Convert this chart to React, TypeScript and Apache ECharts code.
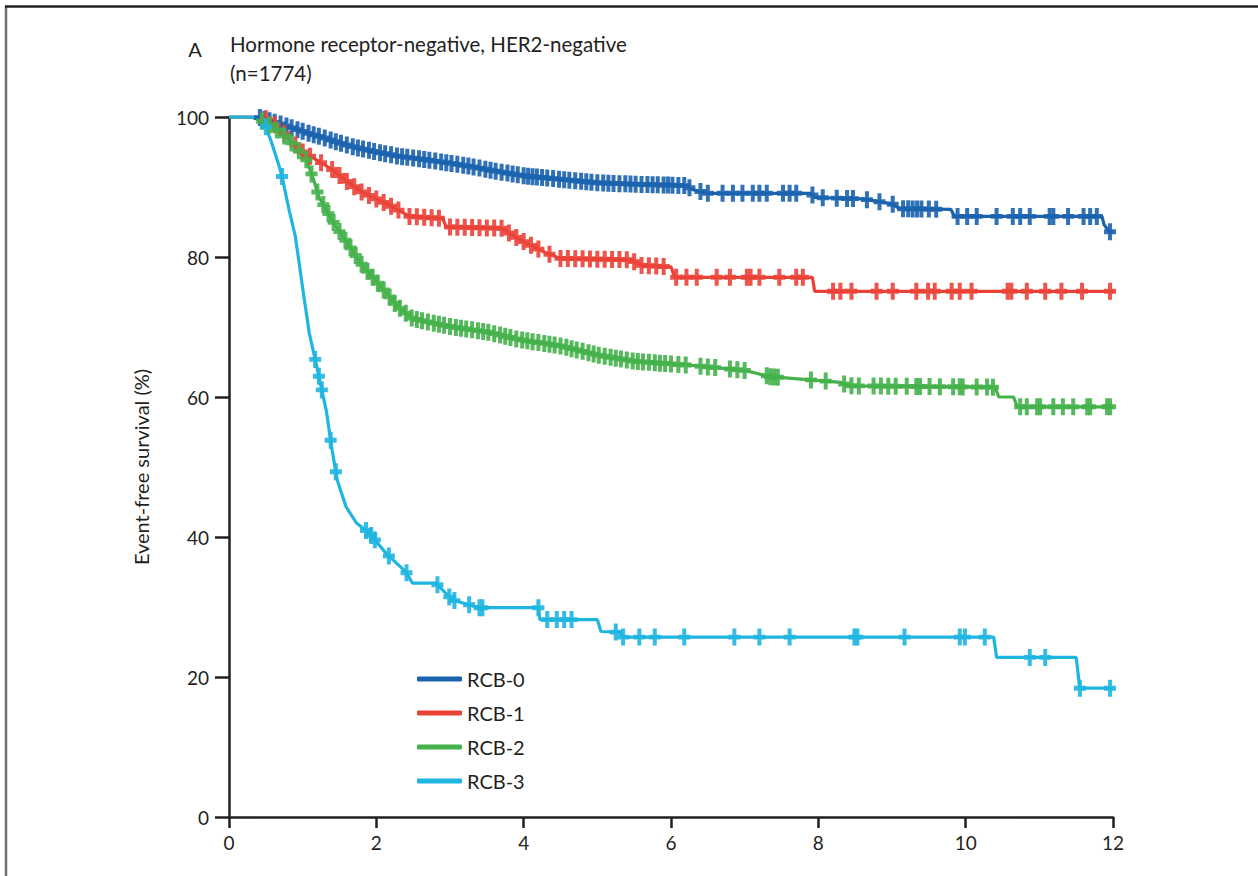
import React, { useEffect, useRef } from "react";
import * as echarts from "echarts";

const seriesNames = ["RCB-0", "RCB-1", "RCB-2", "RCB-3"];
const seriesColors = ["#1b63ae", "#eb4238", "#45b14b", "#1fb5e1"];
const xTicks = [0, 2, 4, 6, 8, 10, 12];
const yTicks = [0, 20, 40, 60, 80, 100];

// Kaplan-Meier curves: [years, event-free survival %]
const rcb0Curve = [
  [0, 100], [0.4, 100], [0.5, 99.6], [0.7, 99.0], [0.9, 98.3], [1.1, 97.6], [1.3, 97.0],
  [1.5, 96.3], [1.7, 95.7], [2.0, 95.0], [2.3, 94.4], [2.6, 94.0], [3.0, 93.4], [3.3, 92.9],
  [3.6, 92.3], [4.0, 91.6], [4.5, 91.1], [5.0, 90.6], [5.5, 90.4], [6.2, 90.2], [6.3, 89.6],
  [6.5, 89.1], [7.9, 89.1], [7.95, 88.5], [8.6, 88.3], [9.0, 87.6], [9.1, 86.9], [9.8, 86.8],
  [9.85, 85.8], [11.85, 85.8], [11.88, 84.6], [11.95, 83.6], [12, 83.6],
];
const rcb1Curve = [
  [0, 100], [0.45, 100], [0.55, 99.5], [0.7, 98.2], [0.85, 96.5], [1.0, 95.0], [1.2, 93.8],
  [1.4, 92.5], [1.6, 90.8], [1.8, 89.3], [2.1, 87.8], [2.3, 86.7], [2.45, 85.8], [2.9, 85.5],
  [2.95, 84.3], [3.7, 84.1], [3.85, 83.1], [4.0, 82.2], [4.3, 80.6], [4.5, 79.8], [5.45, 79.6],
  [5.6, 78.8], [6.0, 78.6], [6.05, 77.1], [7.92, 77.1], [7.95, 75.1], [12, 75.1],
];
const rcb2Curve = [
  [0, 100], [0.3, 100], [0.5, 99.2], [0.7, 97.8], [0.9, 95.8], [1.05, 93.9], [1.15, 91.0],
  [1.22, 88.6], [1.35, 86.2], [1.45, 84.4], [1.67, 81.0], [1.81, 78.8], [2.0, 76.5], [2.15, 74.7],
  [2.27, 73.1], [2.49, 71.2], [2.8, 70.5], [3.03, 70.0], [3.5, 69.3], [3.94, 68.2], [4.5, 67.3],
  [5.0, 66.0], [5.5, 65.1], [6.3, 64.5], [7.0, 63.8], [7.35, 62.9], [8.3, 62.1], [8.4, 61.6],
  [10.4, 61.4], [10.45, 60.0], [10.65, 60.0], [10.7, 58.6], [12, 58.6],
];
const rcb3Curve = [
  [0, 100], [0.42, 100], [0.5, 98.6], [0.58, 96.3], [0.68, 93.0], [0.72, 91.5], [0.82, 86.5],
  [0.9, 83.0], [0.99, 76.3], [1.09, 69.1], [1.18, 64.9], [1.32, 58.1], [1.4, 52.4], [1.47, 48.1],
  [1.59, 44.3], [1.73, 42.0], [1.9, 40.6], [2.13, 37.7], [2.41, 34.9], [2.49, 33.4], [2.81, 33.4],
  [3.03, 31.0], [3.4, 29.9], [4.2, 29.9], [4.22, 28.2], [5.0, 28.2], [5.05, 26.5], [5.3, 26.4],
  [5.35, 25.7], [10.38, 25.7], [10.42, 22.8], [11.5, 22.8], [11.55, 18.4], [12, 18.4],
];

// censoring times (years)
const rcb0Censor = [
  0.42, 0.48, 0.55, 0.62, 0.7, 0.78, 0.85, 0.93, 1.0, 1.08, 1.15, 1.22, 1.3, 1.38, 1.45, 1.52,
  1.6, 1.68, 1.75, 1.82, 1.9, 1.97, 2.05, 2.12, 2.2, 2.28, 2.35, 2.42, 2.5, 2.58, 2.65, 2.72,
  2.8, 2.88, 2.95, 3.02, 3.1, 3.18, 3.25, 3.32, 3.4, 3.48, 3.55, 3.62, 3.7, 3.78, 3.85, 3.92,
  4.0, 4.06, 4.12, 4.18, 4.25, 4.32, 4.4, 4.48, 4.55, 4.62, 4.7, 4.78, 4.85, 4.92, 5.0, 5.08,
  5.15, 5.22, 5.3, 5.38, 5.45, 5.52, 5.6, 5.68, 5.75, 5.82, 5.9, 5.96, 6.02, 6.1, 6.18, 6.25,
  6.4, 6.5, 6.7, 6.84, 6.97, 7.11, 7.2, 7.3, 7.52, 7.61, 7.7, 7.92, 8.06, 8.25, 8.39, 8.47,
  8.66, 8.83, 9.01, 9.15, 9.22, 9.28, 9.34, 9.4, 9.5, 9.6, 9.89, 10.02, 10.15, 10.42, 10.64,
  10.74, 10.87, 11.14, 11.19, 11.39, 11.6, 11.69, 11.78, 11.96,
];
const rcb1Censor = [
  0.5, 0.62, 0.75, 0.9, 1.0, 1.1, 1.25, 1.4, 1.5, 1.6, 1.7, 1.8, 1.9, 2.0, 2.1, 2.2, 2.3, 2.45,
  2.55, 2.65, 2.75, 2.85, 3.0, 3.1, 3.2, 3.3, 3.4, 3.5, 3.6, 3.7, 3.8, 3.9, 4.0, 4.1, 4.2, 4.35,
  4.5, 4.6, 4.7, 4.8, 4.9, 5.0, 5.1, 5.2, 5.3, 5.4, 5.5, 5.6, 5.7, 5.8, 5.9, 6.07, 6.21, 6.35,
  6.62, 6.8, 7.03, 7.08, 7.2, 7.47, 7.7, 7.79, 8.2, 8.3, 8.45, 8.79, 9.01, 9.33, 9.49, 9.58,
  9.81, 9.92, 10.08, 10.57, 10.62, 10.83, 11.08, 11.3, 11.58, 11.96,
];
const rcb2Censor = [
  0.45, 0.55, 0.65, 0.75, 0.85, 0.95, 1.05, 1.12, 1.2, 1.28, 1.35, 1.42, 1.5, 1.58, 1.65, 1.72,
  1.8, 1.88, 1.95, 2.02, 2.1, 2.18, 2.25, 2.32, 2.4, 2.48, 2.55, 2.62, 2.7, 2.78, 2.85, 2.92,
  3.0, 3.08, 3.15, 3.22, 3.3, 3.38, 3.45, 3.52, 3.6, 3.68, 3.75, 3.82, 3.9, 3.98, 4.05, 4.12,
  4.2, 4.28, 4.35, 4.42, 4.5, 4.58, 4.65, 4.72, 4.8, 4.88, 4.95, 5.02, 5.1, 5.18, 5.25, 5.32,
  5.4, 5.48, 5.55, 5.62, 5.7, 5.78, 5.85, 5.92, 6.0, 6.1, 6.2, 6.4, 6.5, 6.6, 6.8, 6.9, 7.0,
  7.3, 7.35, 7.4, 7.45, 7.9, 8.1, 8.35, 8.45, 8.55, 8.75, 8.85, 8.95, 9.05, 9.2, 9.33, 9.38,
  9.51, 9.65, 9.83, 9.92, 9.96, 10.15, 10.29, 10.37, 10.74, 10.83, 10.97, 11.01, 11.19, 11.32,
  11.46, 11.65, 11.69, 11.92, 11.96,
];
const rcb3Censor = [
  0.5, 0.72, 1.17, 1.22, 1.26, 1.38, 1.45, 1.86, 1.93, 1.98, 2.17, 2.41, 2.83, 2.99, 3.06,
  3.26, 3.4, 3.44, 4.2, 4.32, 4.45, 4.55, 4.65, 5.25, 5.35, 5.57, 5.78, 6.18, 6.86, 7.2, 7.61,
  8.49, 8.53, 9.17, 9.92, 9.99, 10.26, 10.87, 11.08, 11.55, 11.96,
];

const curves = [rcb0Curve, rcb1Curve, rcb2Curve, rcb3Curve];
const censors = [rcb0Censor, rcb1Censor, rcb2Censor, rcb3Censor];

const FONT = "Lato, 'Open Sans', sans-serif";
const INK = "#231f20";
const PLUS = "path://M4,0 H8 V5 H12 V9 H8 V14 H4 V9 H0 V5 H4 Z";

function valueAt(curve: number[][], t: number): number {
  for (let i = curve.length - 1; i >= 0; i--) {
    if (curve[i][0] <= t) {
      if (i === curve.length - 1) return curve[i][1];
      const [t0, v0] = curve[i];
      const [t1, v1] = curve[i + 1];
      if (t1 === t0) return v1;
      return v0 + ((v1 - v0) * (t - t0)) / (t1 - t0);
    }
  }
  return curve[0][1];
}

export default function App() {
  const ref = useRef<HTMLDivElement>(null);
  useEffect(() => {
    if (!ref.current) return;
    const chart = echarts.init(ref.current, null, { renderer: "svg" });
    const lineSeries = seriesNames.map((name, i) => ({
      name,
      type: "line",
      data: curves[i],
      showSymbol: false,
      symbol: "none",
      lineStyle: { width: 3.2, color: seriesColors[i] },
      itemStyle: { color: seriesColors[i] },
      z: 2,
    }));
    const censorSeries = seriesNames.map((name, i) => ({
      name,
      type: "scatter",
      data: censors[i].map((t) => [t, valueAt(curves[i], t)]),
      symbol: PLUS,
      symbolSize: [12, 17],
      itemStyle: { color: seriesColors[i], opacity: 0.9 },
      z: 3,
    }));
    chart.setOption({
      animation: false,
      backgroundColor: "#ffffff",
      grid: { left: 229, right: 145, top: 117, bottom: 59, containLabel: false, outerBoundsMode: "none" },
      xAxis: {
        type: "value",
        min: 0,
        max: 12,
        interval: 2,
        axisLine: { show: true, onZero: false, lineStyle: { color: INK, width: 2.5 } },
        axisTick: { show: true, length: 11, lineStyle: { color: INK, width: 2.5 } },
        axisLabel: {
          margin: 16,
          fontSize: 19,
          fontFamily: FONT,
          color: INK,
          formatter: (v: number) => (xTicks.includes(v) ? String(v) : ""),
        },
        splitLine: { show: false },
      },
      yAxis: {
        type: "value",
        min: 0,
        max: 100,
        interval: 20,
        name: "Event-free survival (%)",
        nameLocation: "middle",
        nameRotate: 90,
        nameGap: 78,
        nameTextStyle: { fontSize: 20, fontFamily: FONT, color: INK },
        axisLine: { show: true, onZero: false, lineStyle: { color: INK, width: 2.5 } },
        axisTick: { show: true, length: 14, lineStyle: { color: INK, width: 2.5 } },
        axisLabel: {
          margin: 20,
          fontSize: 19,
          fontFamily: FONT,
          color: INK,
          formatter: (v: number) => (yTicks.includes(v) ? String(v) : ""),
        },
        splitLine: { show: false },
      },
      legend: {
        data: seriesNames,
        orient: "vertical",
        left: 412,
        top: 664,
        icon: "roundRect",
        itemWidth: 45,
        itemHeight: 5,
        itemGap: 14,
        selectedMode: false,
        textStyle: { fontSize: 20, fontFamily: FONT, color: INK },
      },
      graphic: [
        { type: "line", shape: { x1: 6, y1: 6, x2: 6, y2: 876 }, style: { stroke: "#6d6e71", lineWidth: 2.5 } },
        { type: "line", shape: { x1: 5, y1: 6.5, x2: 1258, y2: 6.5 }, style: { stroke: INK, lineWidth: 2.5 } },
        {
          type: "text",
          x: 195,
          y: 49,
          style: { text: "A", fontSize: 20, fontFamily: FONT, fill: INK, align: "center", verticalAlign: "middle" },
        },
        {
          type: "text",
          x: 230,
          y: 44,
          style: {
            text: "Hormone receptor-negative, HER2-negative",
            fontSize: 20.5,
            fontFamily: FONT,
            fill: INK,
            align: "left",
            verticalAlign: "middle",
          },
        },
        {
          type: "text",
          x: 230,
          y: 73,
          style: { text: "(n=1774)", fontSize: 20.5, fontFamily: FONT, fill: INK, align: "left", verticalAlign: "middle" },
        },
      ],
      series: [...lineSeries, ...censorSeries],
    });
    return () => chart.dispose();
  }, []);
  return (
    <div
      ref={ref}
      style={{ position: "absolute", left: 0, top: 0, width: 1258, height: 876, background: "#fff" }}
    />
  );
}
